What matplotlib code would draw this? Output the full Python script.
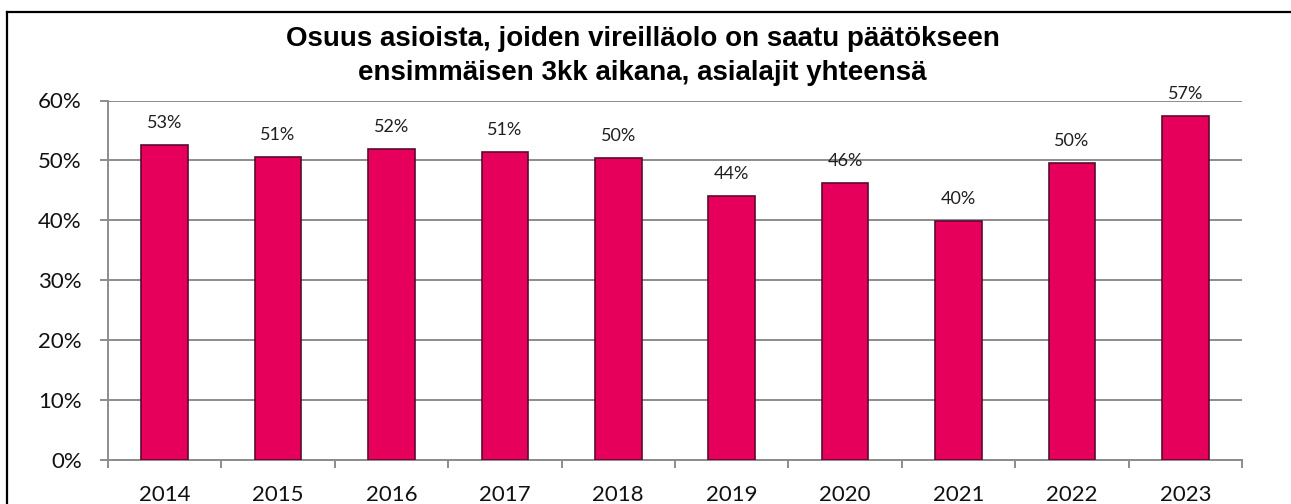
import matplotlib
matplotlib.use("Agg")
import matplotlib.pyplot as plt
import numpy as np
from matplotlib.lines import Line2D
from matplotlib.ticker import FixedLocator, PercentFormatter

years = ['2014', '2015', '2016', '2017', '2018', '2019', '2020', '2021', '2022', '2023']
share = [52.6, 50.6, 51.9, 51.4, 50.4, 44.1, 46.2, 39.9, 49.6, 57.4]  # %
title_lines = ['Osuus asioista, joiden vireilläolo on saatu päätökseen',
               'ensimmäisen 3kk aikana, asialajit yhteensä']

bar_color = '#E6005C'
edge_color = '#5C0A2E'
grid_color = '#8C8C8C'

W, H = 1291, 504
fig = plt.figure(figsize=(W / 100, H / 100), dpi=100)
ax = fig.add_axes([108 / W, (H - 459.5) / H, (1242 - 108) / W, (459.5 - 100.5) / H])

x = np.arange(len(years))
bars = ax.bar(x, share, width=0.41, color=bar_color, edgecolor=edge_color,
              linewidth=1.2, zorder=3)

for xi, v in zip(x, share):
    ax.annotate(f'{v:.0f}%', xy=(xi, v), xytext=(0, 12), textcoords='offset points',
                ha='center', va='baseline', fontsize=13, family='Lato',
                color='#1f1f1f', annotation_clip=False)

ax.set_xlim(-0.5, len(years) - 0.5)
ax.set_ylim(0, 60)
ax.set_yticks(np.arange(0, 61, 10))
ax.yaxis.set_major_formatter(PercentFormatter(decimals=0))
ax.grid(axis='y', color=grid_color, linewidth=1.4, zorder=0)

ax.set_xticks(x)
ax.set_xticklabels(years)
ax.xaxis.set_minor_locator(FixedLocator(np.arange(-0.5, len(years), 1.0)))
ax.tick_params(axis='x', which='major', length=0, pad=18.5, labelsize=16)
ax.tick_params(axis='x', which='minor', length=5.8, width=1.4, color=grid_color)
ax.tick_params(axis='y', length=5.8, width=1.4, color=grid_color, pad=13, labelsize=16)
for lab in ax.get_xticklabels() + ax.get_yticklabels():
    lab.set_family('Lato')
    lab.set_color('#111111')

for s in ['top', 'right']:
    ax.spines[s].set_visible(False)
for s in ['left', 'bottom']:
    ax.spines[s].set_color(grid_color)
    ax.spines[s].set_linewidth(1.4)

fig.text(642.5 / W, 1 - 46.5 / H, title_lines[0], ha='center', va='baseline',
         fontsize=20, fontweight='bold', family='Liberation Sans')
fig.text(642.5 / W, 1 - 80.5 / H, title_lines[1], ha='center', va='baseline',
         fontsize=20, fontweight='bold', family='Liberation Sans')

# outer frame (top and left edges visible)
fig.add_artist(Line2D([7 / W, 1], [1 - 12 / H, 1 - 12 / H], color='black', linewidth=1.6,
                      transform=fig.transFigure))
fig.add_artist(Line2D([7.3 / W, 7.3 / W], [0, 1 - 12 / H], color='black', linewidth=1.6,
                      transform=fig.transFigure))

fig.savefig('out.png', dpi=100)
